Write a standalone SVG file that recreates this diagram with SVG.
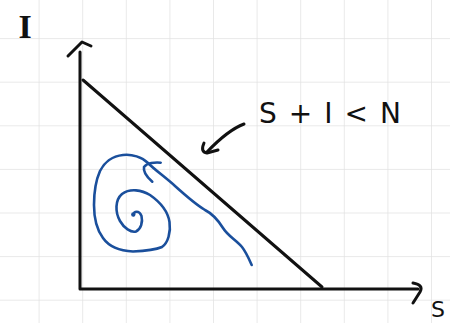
<svg xmlns="http://www.w3.org/2000/svg" width="450" height="323" viewBox="0 0 450 323">
<defs>
<pattern id="grid" x="-5" y="-5.5" width="43.6" height="43.6" patternUnits="userSpaceOnUse">
<path d="M0 0H43.6M0 0V43.6" fill="none" stroke="#e2e2e2" stroke-width="1.5"/>
</pattern>
</defs>
<style>
.ink{fill:none;stroke:#111;stroke-width:3;stroke-linecap:round;stroke-linejoin:round}
.blue{fill:none;stroke:#1a4f9c;stroke-width:2.6;stroke-linecap:round;stroke-linejoin:round}
.lbl{font-family:"DejaVu Sans","Liberation Sans",sans-serif;fill:#111}
.serif{font-family:"Liberation Serif","DejaVu Serif",serif;font-weight:bold}
</style>
<rect width="450" height="323" fill="#fff"/>
<rect width="450" height="323" fill="url(#grid)"/>
<g id="axes">
<path class="ink" d="M80 52 V289 H418"/>
<path class="ink" d="M68 56 L82 42 L91 46"/>
<path class="ink" d="M413 283 Q424 285 420 292 L413 303"/>
<path class="ink" d="M83 80 L322 287"/>
</g>
<g id="labels">
<text class="lbl serif" x="25" y="38" font-size="34" text-anchor="middle">I</text>
<text class="lbl" x="438" y="317" font-size="22" text-anchor="middle">S</text>
<text class="lbl" x="259" y="123" font-size="28" textLength="142" lengthAdjust="spacing">S+I&lt;N</text>
</g>
<g id="connectors">
<path class="ink" d="M244 124 Q228 130 207 152"/>
<path class="ink" d="M204 143 Q200 152 207 153 L218 150"/>
</g>
<g id="spiral">
<circle cx="133.3" cy="214.5" r="2.2" fill="#1a4f9c"/>
<path class="blue" d="M133.3 215 C134 211 139 210 141.5 216 C143 222 141 229 136 231.5 C131 233 124 228 120 221 C115 212 115 200 122 194 C130 188 142 190 150 195 C160 202 168 212 169.5 222 C171 232 168 243 162 247 C155 250 145 251 133 251.5 C122 251 110 248 103 238 C97 230 94 218 94 205 C94 192 96 180 100 171 C104 163 112 156 123 155 C132 154 142 157 148 163 C155 170 165 177 175 186 C185 195 195 204 205 210 C213 214 218 220 223 228 C228 236 236 240 242 247 C246 252 249 259 251.7 265"/>
<path class="blue" d="M160.7 162.7 C155 162 147 163 144 167 C143 172 148 178 152.3 181.7"/>
</g>
</svg>
